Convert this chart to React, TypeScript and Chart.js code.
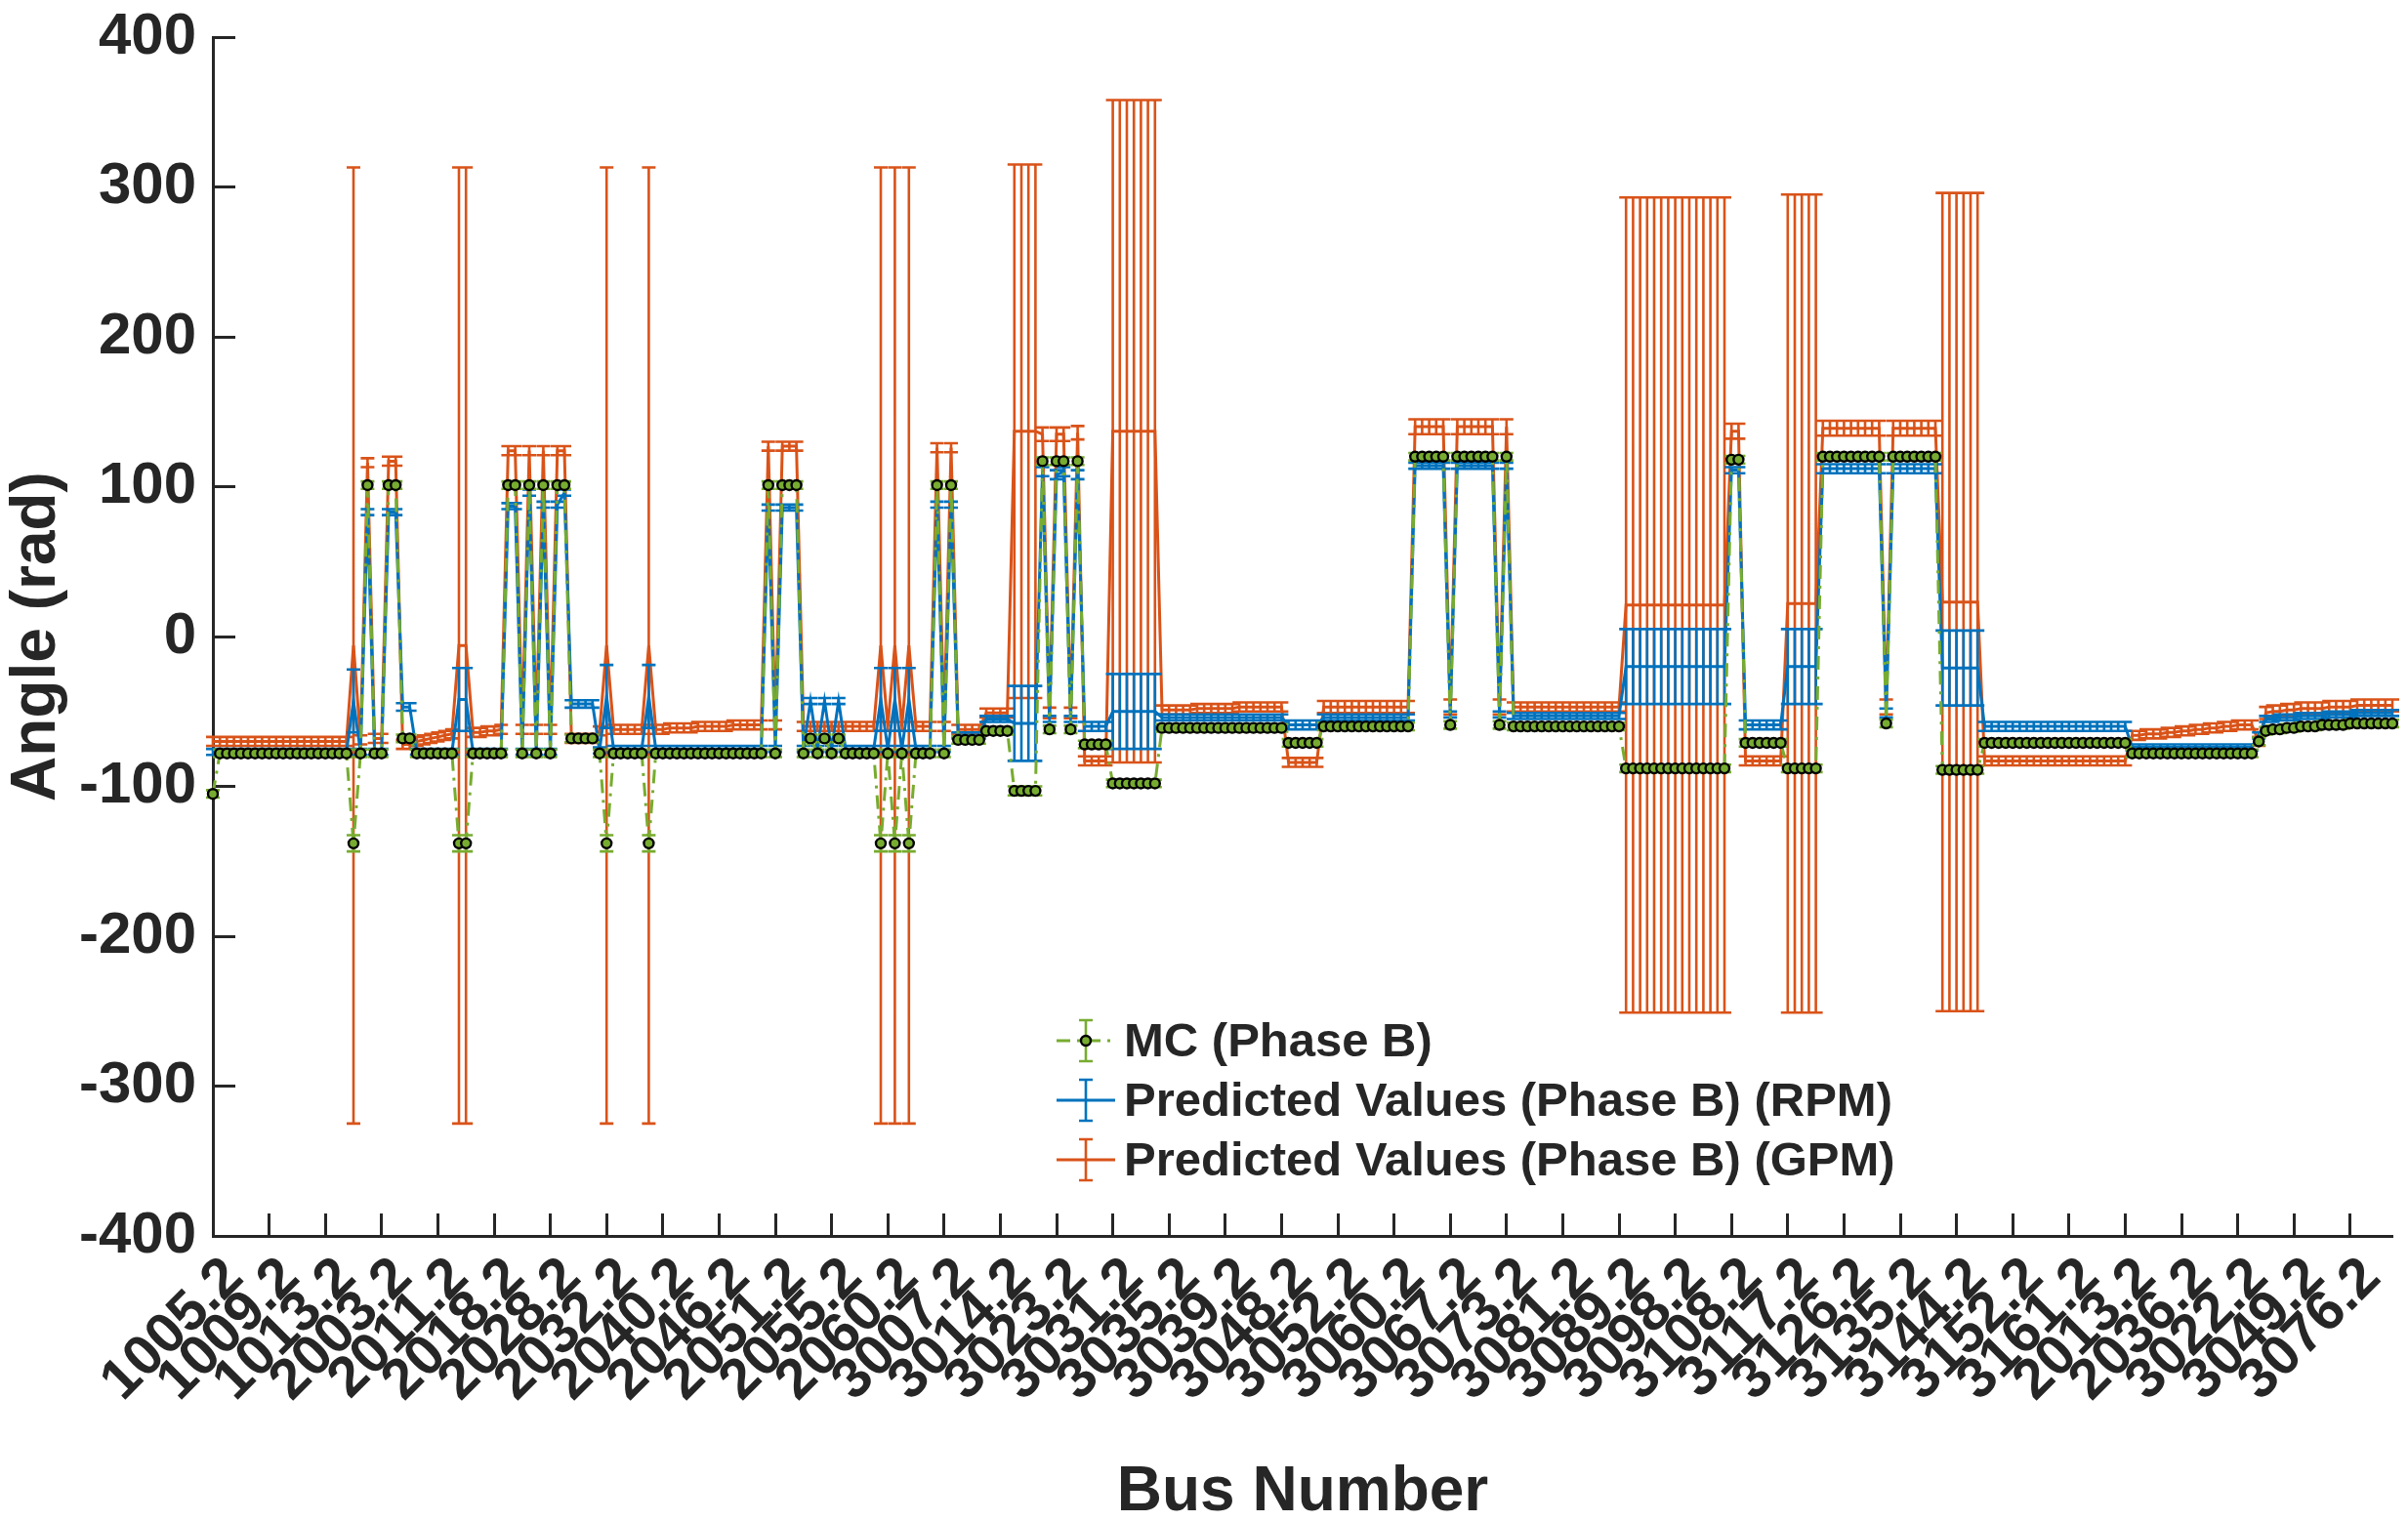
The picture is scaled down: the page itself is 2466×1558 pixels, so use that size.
import React, { useEffect, useRef } from 'react';
import Chart from 'chart.js/auto';

// tick labels, one every 8 points (point 1, 9, 17, ...)
const tickLabels = [
  '1005.2', '1009.2', '1013.2', '2003.2', '2011.2', '2018.2', '2028.2', '2032.2', '2040.2', '2046.2',
  '2051.2', '2055.2', '2060.2', '3007.2', '3014.2', '3023.2', '3031.2', '3035.2', '3039.2', '3048.2',
  '3052.2', '3060.2', '3067.2', '3073.2', '3081.2', '3089.2', '3098.2', '3108.2', '3117.2', '3126.2',
  '3135.2', '3144.2', '3152.2', '3161.2', '2013.2', '2036.2', '3022.2', '3049.2', '3076.2',
];
const tickStep = 8;
const pointCount = 311;

// MC (Phase B)
const mc = [
  -105, -78, -78, -78, -78, -78, -78, -78, -78, -78,
  -78, -78, -78, -78, -78, -78, -78, -78, -78, -78,
  -138, -78, 101, -78, -78, 101, 101, -68, -68, -78,
  -78, -78, -78, -78, -78, -138, -138, -78, -78, -78,
  -78, -78, 101, 101, -78, 101, -78, 101, -78, 101,
  101, -68, -68, -68, -68, -78, -138, -78, -78, -78,
  -78, -78, -138, -78, -78, -78, -78, -78, -78, -78,
  -78, -78, -78, -78, -78, -78, -78, -78, -78, 101,
  -78, 101, 101, 101, -78, -68, -78, -68, -78, -68,
  -78, -78, -78, -78, -78, -138, -78, -138, -78, -138,
  -78, -78, -78, 101, -78, 101, -69, -69, -69, -69,
  -63, -63, -63, -63, -103, -103, -103, -103, 117, -62,
  117, 117, -62, 117, -72, -72, -72, -72, -98, -98,
  -98, -98, -98, -98, -98, -61, -61, -61, -61, -61,
  -61, -61, -61, -61, -61, -61, -61, -61, -61, -61,
  -61, -61, -61, -71, -71, -71, -71, -71, -60, -60,
  -60, -60, -60, -60, -60, -60, -60, -60, -60, -60,
  -60, 120, 120, 120, 120, 120, -59, 120, 120, 120,
  120, 120, 120, -59, 120, -60, -60, -60, -60, -60,
  -60, -60, -60, -60, -60, -60, -60, -60, -60, -60,
  -60, -88, -88, -88, -88, -88, -88, -88, -88, -88,
  -88, -88, -88, -88, -88, -88, 118, 118, -71, -71,
  -71, -71, -71, -71, -88, -88, -88, -88, -88, 120,
  120, 120, 120, 120, 120, 120, 120, 120, -58, 120,
  120, 120, 120, 120, 120, 120, -89, -89, -89, -89,
  -89, -89, -71, -71, -71, -71, -71, -71, -71, -71,
  -71, -71, -71, -71, -71, -71, -71, -71, -71, -71,
  -71, -71, -71, -78, -78, -78, -78, -78, -78, -78,
  -78, -78, -78, -78, -78, -78, -78, -78, -78, -78,
  -78, -70, -63, -62, -62, -61, -61, -60, -60, -60,
  -59, -59, -59, -59, -58, -58, -58, -58, -58, -58, -58,
];
const mcErr = [
  2.5, 2.5, 2.5, 2.5, 2.5, 2.5, 2.5, 2.5, 2.5, 2.5,
  2.5, 2.5, 2.5, 2.5, 2.5, 2.5, 2.5, 2.5, 2.5, 2.5,
  5.4, 2.5, 2.5, 2.5, 2.5, 2.5, 2.5, 2.5, 2.5, 2.5,
  2.5, 2.5, 2.5, 2.5, 2.5, 5.4, 5.4, 2.5, 2.5, 2.5,
  2.5, 2.5, 2.5, 2.5, 2.5, 2.5, 2.5, 2.5, 2.5, 2.5,
  2.5, 2.5, 2.5, 2.5, 2.5, 2.5, 5.4, 2.5, 2.5, 2.5,
  2.5, 2.5, 5.4, 2.5, 2.5, 2.5, 2.5, 2.5, 2.5, 2.5,
  2.5, 2.5, 2.5, 2.5, 2.5, 2.5, 2.5, 2.5, 2.5, 2.5,
  2.5, 2.5, 2.5, 2.5, 2.5, 2.5, 2.5, 2.5, 2.5, 2.5,
  2.5, 2.5, 2.5, 2.5, 2.5, 5.4, 2.5, 5.4, 2.5, 5.4,
  2.5, 2.5, 2.5, 2.5, 2.5, 2.5, 2.5, 2.5, 2.5, 2.5,
  2.5, 2.5, 2.5, 2.5, 3, 3, 3, 3, 2.5, 2.5,
  2.5, 2.5, 2.5, 2.5, 2.5, 2.5, 2.5, 2.5, 2.5, 2.5,
  2.5, 2.5, 2.5, 2.5, 2.5, 2.5, 2.5, 2.5, 2.5, 2.5,
  2.5, 2.5, 2.5, 2.5, 2.5, 2.5, 2.5, 2.5, 2.5, 2.5,
  2.5, 2.5, 2.5, 2.5, 2.5, 2.5, 2.5, 2.5, 2.5, 2.5,
  2.5, 2.5, 2.5, 2.5, 2.5, 2.5, 2.5, 2.5, 2.5, 2.5,
  2.5, 2.5, 2.5, 2.5, 2.5, 2.5, 2.5, 2.5, 2.5, 2.5,
  2.5, 2.5, 2.5, 2.5, 2.5, 2.5, 2.5, 2.5, 2.5, 2.5,
  2.5, 2.5, 2.5, 2.5, 2.5, 2.5, 2.5, 2.5, 2.5, 2.5,
  2.5, 2.5, 2.5, 2.5, 2.5, 2.5, 2.5, 2.5, 2.5, 2.5,
  2.5, 2.5, 2.5, 2.5, 2.5, 2.5, 2.5, 2.5, 2.5, 2.5,
  2.5, 2.5, 2.5, 2.5, 2.5, 2.5, 2.5, 2.5, 2.5, 2.5,
  2.5, 2.5, 2.5, 2.5, 2.5, 2.5, 2.5, 2.5, 2.5, 2.5,
  2.5, 2.5, 2.5, 2.5, 2.5, 2.5, 2.5, 2.5, 2.5, 2.5,
  2.5, 2.5, 2.5, 2.5, 2.5, 2.5, 2.5, 2.5, 2.5, 2.5,
  2.5, 2.5, 2.5, 2.5, 2.5, 2.5, 2.5, 2.5, 2.5, 2.5,
  2.5, 2.5, 2.5, 2.5, 2.5, 2.5, 2.5, 2.5, 2.5, 2.5,
  2.5, 2.5, 2.5, 2.5, 2.5, 2.5, 2.5, 2.5, 2.5, 2.5,
  2.5, 2.5, 2.5, 2.5, 2.5, 2.5, 2.5, 2.5, 2.5, 2.5,
  2.5, 2.5, 2.5, 2.5, 2.5, 2.5, 2.5, 2.5, 2.5, 2.5, 2.5,
];

// Predicted Values (Phase B) (RPM)
const rpm = [
  -77, -77, -77, -77, -77, -77, -77, -77, -77, -77,
  -77, -77, -77, -77, -77, -77, -77, -77, -77, -77,
  -43, -77, 83, -77, -77, 83, 83, -47, -47, -77,
  -77, -77, -77, -77, -77, -42, -42, -77, -77, -77,
  -77, -77, 87, 87, -77, 96, -77, 88, -77, 88,
  96, -45, -45, -45, -45, -76, -40, -75, -75, -75,
  -75, -75, -40, -75, -75, -75, -75, -75, -75, -75,
  -75, -75, -75, -75, -75, -75, -75, -75, -75, 86,
  -75, 86, 86, 86, -75, -43, -75, -43, -75, -43,
  -75, -75, -75, -75, -75, -42, -75, -42, -75, -42,
  -75, -75, -75, 88, -75, 88, -66, -66, -66, -66,
  -55, -55, -55, -55, -58, -58, -58, -58, 110, -55,
  108, 110, -55, 108, -60, -60, -60, -60, -50, -50,
  -50, -50, -50, -50, -50, -54, -54, -54, -54, -54,
  -54, -54, -54, -54, -54, -54, -54, -54, -54, -54,
  -54, -54, -54, -59, -59, -59, -59, -59, -54, -54,
  -54, -54, -54, -54, -54, -54, -54, -54, -54, -54,
  -54, 114, 114, 114, 114, 114, -52, 114, 114, 114,
  114, 114, 114, -52, 114, -53, -53, -53, -53, -53,
  -53, -53, -53, -53, -53, -53, -53, -53, -53, -53,
  -53, -20, -20, -20, -20, -20, -20, -20, -20, -20,
  -20, -20, -20, -20, -20, -20, 111, 111, -59, -59,
  -59, -59, -59, -59, -20, -20, -20, -20, -20, 112,
  112, 112, 112, 112, 112, 112, 112, 112, -51, 112,
  112, 112, 112, 112, 112, 112, -21, -21, -21, -21,
  -21, -21, -60, -60, -60, -60, -60, -60, -60, -60,
  -60, -60, -60, -60, -60, -60, -60, -60, -60, -60,
  -60, -60, -60, -74, -74, -74, -74, -74, -74, -74,
  -74, -74, -74, -74, -74, -74, -74, -74, -74, -74,
  -74, -66, -55, -55, -54, -54, -54, -53, -53, -53,
  -53, -52, -52, -52, -52, -51, -51, -51, -51, -51, -51,
];
const rpmErr = [
  2, 2, 2, 2, 2, 2, 2, 2, 2, 2,
  2, 2, 2, 2, 2, 2, 2, 2, 2, 2,
  21, 2, 2, 2, 2, 2, 2, 2.5, 2.5, 2,
  2, 2, 2, 2, 2, 21, 21, 2, 2, 2,
  2, 2, 2, 2, 2, 2, 2, 2, 2, 2,
  2, 2.5, 2.5, 2.5, 2.5, 2, 21, 2, 2, 2,
  2, 2, 21, 2, 2, 2, 2, 2, 2, 2,
  2, 2, 2, 2, 2, 2, 2, 2, 2, 2,
  2, 2, 2, 2, 2, 2, 2, 2, 2, 2,
  2, 2, 2, 2, 2, 21, 2, 21, 2, 21,
  2, 2, 2, 2, 2, 2, 2, 2, 2, 2,
  2, 2, 2, 2, 25, 25, 25, 25, 3, 2,
  3, 3, 2, 3, 3, 3, 3, 3, 25, 25,
  25, 25, 25, 25, 25, 2, 2, 2, 2, 2,
  2, 2, 2, 2, 2, 2, 2, 2, 2, 2,
  2, 2, 2, 3, 3, 3, 3, 3, 2, 2,
  2, 2, 2, 2, 2, 2, 2, 2, 2, 2,
  2, 2, 2, 2, 2, 2, 2, 2, 2, 2,
  2, 2, 2, 2, 2, 2, 2, 2, 2, 2,
  2, 2, 2, 2, 2, 2, 2, 2, 2, 2,
  2, 25, 25, 25, 25, 25, 25, 25, 25, 25,
  25, 25, 25, 25, 25, 25, 2, 2, 3, 3,
  3, 3, 3, 3, 25, 25, 25, 25, 25, 3,
  3, 3, 3, 3, 3, 3, 3, 3, 3, 3,
  3, 3, 3, 3, 3, 3, 25, 25, 25, 25,
  25, 25, 3, 3, 3, 3, 3, 3, 3, 3,
  3, 3, 3, 3, 3, 3, 3, 3, 3, 3,
  3, 3, 3, 2, 2, 2, 2, 2, 2, 2,
  2, 2, 2, 2, 2, 2, 2, 2, 2, 2,
  2, 2, 2, 2, 2, 2, 2, 2, 2, 2,
  2, 2, 2, 2, 2, 2, 2, 2, 2, 2, 2,
];

// Predicted Values (Phase B) (GPM)
const gpm = [
  -70, -70, -70, -70, -70, -70, -70, -70, -70, -70,
  -70, -70, -70, -70, -70, -70, -70, -70, -70, -70,
  -6, -69, 116, -68, -68, 117, 117, -72, -72, -70,
  -69, -68, -67, -66, -65, -6, -6, -64, -64, -63,
  -63, -62, 124, 124, -62, 124, -62, 124, -62, 124,
  124, -68, -68, -68, -68, -63, -6, -62, -62, -62,
  -62, -62, -6, -62, -62, -61, -61, -61, -61, -60,
  -60, -60, -60, -60, -59, -59, -59, -59, -59, 127,
  -59, 127, 127, 127, -60, -60, -60, -60, -60, -60,
  -60, -60, -60, -60, -60, -6, -60, -6, -60, -6,
  -60, -60, -60, 126, -60, 126, -62, -62, -62, -62,
  -51, -51, -51, -51, 137, 137, 137, 137, 135, -51,
  135, 135, -51, 136, -83, -83, -83, -83, 137, 137,
  137, 137, 137, 137, 137, -49, -49, -49, -49, -49,
  -48, -48, -48, -48, -48, -48, -47, -47, -47, -47,
  -47, -47, -47, -84, -84, -84, -84, -84, -47, -47,
  -47, -47, -47, -47, -47, -47, -47, -47, -47, -47,
  -47, 140, 140, 140, 140, 140, -47, 140, 140, 140,
  140, 140, 140, -47, 140, -47, -47, -47, -47, -47,
  -47, -47, -47, -47, -47, -47, -47, -47, -47, -47,
  -47, 21, 21, 21, 21, 21, 21, 21, 21, 21,
  21, 21, 21, 21, 21, 21, 137, 137, -83, -83,
  -83, -83, -83, -83, 22, 22, 22, 22, 22, 139,
  139, 139, 139, 139, 139, 139, 139, 139, -47, 139,
  139, 139, 139, 139, 139, 139, 23, 23, 23, 23,
  23, 23, -83, -83, -83, -83, -83, -83, -83, -83,
  -83, -83, -83, -83, -83, -83, -83, -83, -83, -83,
  -83, -83, -83, -66, -66, -65, -65, -65, -64, -64,
  -63, -63, -62, -62, -61, -61, -60, -60, -59, -59,
  -59, -70, -51, -50, -50, -49, -49, -48, -48, -48,
  -48, -47, -47, -47, -47, -46, -46, -46, -46, -46, -46,
];
const gpmErr = [
  3, 3, 3, 3, 3, 3, 3, 3, 3, 3,
  3, 3, 3, 3, 3, 3, 3, 3, 3, 3,
  319, 3, 3, 3, 3, 3, 3, 3, 3, 3,
  3, 3, 3, 3, 3, 319, 319, 3, 3, 3,
  3, 3, 3, 3, 3, 3, 3, 3, 3, 3,
  3, 3, 3, 3, 3, 3, 319, 3, 3, 3,
  3, 3, 319, 3, 3, 3, 3, 3, 3, 3,
  3, 3, 3, 3, 3, 3, 3, 3, 3, 3,
  3, 3, 3, 3, 3, 3, 3, 3, 3, 3,
  3, 3, 3, 3, 3, 319, 3, 319, 3, 319,
  3, 3, 3, 3, 3, 3, 3, 3, 3, 3,
  3, 3, 3, 3, 178, 178, 178, 178, 4.5, 3.5,
  4.5, 4.5, 3.5, 4.5, 3, 3, 3, 3, 221, 221,
  221, 221, 221, 221, 221, 3, 3, 3, 3, 3,
  3, 3, 3, 3, 3, 3, 3, 3, 3, 3,
  3, 3, 3, 3, 3, 3, 3, 3, 4, 4,
  4, 4, 4, 4, 4, 4, 4, 4, 4, 4,
  4, 5, 5, 5, 5, 5, 5, 5, 5, 5,
  5, 5, 5, 5, 5, 3, 3, 3, 3, 3,
  3, 3, 3, 3, 3, 3, 3, 3, 3, 3,
  3, 272, 272, 272, 272, 272, 272, 272, 272, 272,
  272, 272, 272, 272, 272, 272, 5, 5, 3, 3,
  3, 3, 3, 3, 273, 273, 273, 273, 273, 5,
  5, 5, 5, 5, 5, 5, 5, 5, 5, 5,
  5, 5, 5, 5, 5, 5, 273, 273, 273, 273,
  273, 273, 3, 3, 3, 3, 3, 3, 3, 3,
  3, 3, 3, 3, 3, 3, 3, 3, 3, 3,
  3, 3, 3, 3, 3, 3, 3, 3, 3, 3,
  3, 3, 3, 3, 3, 3, 3, 3, 3, 3,
  3, 3, 4, 4, 4, 4, 4, 4, 4, 4,
  4, 4, 4, 4, 4, 4, 4, 4, 4, 4, 4,
];

const FONT = '"Liberation Sans", Arial, Helvetica, sans-serif';
const INK = '#262626';
const BLUE = '#0072BD';
const ORANGE = '#D95319';
const GREEN = '#77AC30';

const toPoints = (vals: number[]) => vals.map((y, i) => ({ x: i + 1, y }));

// vertical error bars with caps, drawn under each dataset's line
const errorBarPlugin = {
  id: 'errorBars',
  beforeDatasetDraw(chart: any, args: any) {
    const ds = chart.data.datasets[args.index];
    const errs: number[] | undefined = ds.errors;
    if (!errs) return;
    const yScale = chart.scales.y;
    const ctx = chart.ctx;
    const cap = 7;
    ctx.save();
    ctx.strokeStyle = ds.borderColor;
    ctx.lineWidth = 2.6;
    ctx.setLineDash([]);
    ctx.beginPath();
    args.meta.data.forEach((pt: any, i: number) => {
      const v = ds.data[i].y;
      const e = errs[i];
      const top = yScale.getPixelForValue(v + e);
      const bot = yScale.getPixelForValue(v - e);
      ctx.moveTo(pt.x, top);
      ctx.lineTo(pt.x, bot);
      ctx.moveTo(pt.x - cap, top);
      ctx.lineTo(pt.x + cap, top);
      ctx.moveTo(pt.x - cap, bot);
      ctx.lineTo(pt.x + cap, bot);
    });
    ctx.stroke();
    ctx.restore();
  },
};

// legend with error-bar glyphs, placed inside the axes like MATLAB's
const legendPlugin = {
  id: 'errLegend',
  afterDraw(chart: any) {
    const { ctx } = chart;
    const iconX = 1112;
    const textX = 1151;
    const firstY = 1066;
    const rowGap = 61;
    chart.data.datasets.forEach((ds: any, i: number) => {
      const y = firstY + i * rowGap;
      ctx.save();
      ctx.strokeStyle = ds.borderColor;
      ctx.lineWidth = 3;
      ctx.setLineDash(ds.borderDash || []);
      ctx.beginPath();
      ctx.moveTo(iconX - 30, y);
      ctx.lineTo(iconX + 30, y);
      ctx.stroke();
      ctx.setLineDash([]);
      ctx.lineWidth = 2.6;
      ctx.beginPath();
      ctx.moveTo(iconX, y - 21);
      ctx.lineTo(iconX, y + 21);
      ctx.moveTo(iconX - 7, y - 21);
      ctx.lineTo(iconX + 7, y - 21);
      ctx.moveTo(iconX - 7, y + 21);
      ctx.lineTo(iconX + 7, y + 21);
      ctx.stroke();
      if (ds.pointRadius > 0) {
        ctx.beginPath();
        ctx.arc(iconX, y, ds.pointRadius, 0, Math.PI * 2);
        ctx.fillStyle = ds.pointBackgroundColor;
        ctx.fill();
        ctx.lineWidth = ds.pointBorderWidth;
        ctx.strokeStyle = ds.pointBorderColor;
        ctx.stroke();
      }
      ctx.fillStyle = INK;
      ctx.font = `bold 49px ${FONT}`;
      ctx.textBaseline = 'middle';
      ctx.textAlign = 'left';
      ctx.fillText(ds.label, textX, y + 2);
      ctx.restore();
    });
  },
};

const App: React.FC = () => {
  const canvasRef = useRef<HTMLCanvasElement | null>(null);
  const chartRef = useRef<Chart | null>(null);

  useEffect(() => {
    if (!canvasRef.current) return;
    if (chartRef.current) chartRef.current.destroy();
    const ctx = canvasRef.current.getContext('2d');
    if (!ctx) return;

    chartRef.current = new Chart(ctx, {
      type: 'line',
      data: {
        datasets: [
          {
            label: 'MC (Phase B)',
            data: toPoints(mc),
            errors: mcErr,
            borderColor: GREEN,
            borderWidth: 3,
            borderDash: [14, 7, 3, 7],
            pointRadius: 5,
            pointBackgroundColor: GREEN,
            pointBorderColor: '#000000',
            pointBorderWidth: 2.4,
            tension: 0,
            clip: false,
          } as any,
          {
            label: 'Predicted Values (Phase B) (RPM)',
            data: toPoints(rpm),
            errors: rpmErr,
            borderColor: BLUE,
            borderWidth: 3,
            pointRadius: 0,
            tension: 0,
            clip: false,
          } as any,
          {
            label: 'Predicted Values (Phase B) (GPM)',
            data: toPoints(gpm),
            errors: gpmErr,
            borderColor: ORANGE,
            borderWidth: 3,
            pointRadius: 0,
            tension: 0,
            clip: false,
          } as any,
        ],
      },
      options: {
        responsive: false,
        animation: false,
        devicePixelRatio: 1,
        layout: { padding: { left: 0, top: 38, right: 16, bottom: 0 } },
        plugins: {
          legend: { display: false },
          tooltip: { enabled: false },
        },
        scales: {
          x: {
            type: 'linear',
            min: 1,
            max: pointCount,
            afterBuildTicks: (scale: any) => {
              scale.ticks = tickLabels.map((_, j) => ({ value: 1 + j * tickStep }));
            },
            afterFit: (scale: any) => {
              scale.height = 292;
              scale.paddingLeft = 0;
              scale.paddingRight = 0;
            },
            ticks: {
              autoSkip: false,
              minRotation: 45,
              maxRotation: 45,
              padding: 32,
              labelOffset: 22,
              color: INK,
              font: { family: FONT, size: 58, weight: 'bold' },
              callback: (_v: any, i: number) => tickLabels[i],
            },
            grid: {
              drawOnChartArea: false,
              drawTicks: true,
              tickLength: -23,
              tickWidth: 3,
              tickColor: INK,
            },
            border: { display: true, color: INK, width: 3 },
            title: {
              display: true,
              text: 'Bus Number',
              color: INK,
              font: { family: FONT, size: 64, weight: 'bold', lineHeight: 0.9 },
              padding: { top: 0, bottom: 0 },
            },
          },
          y: {
            type: 'linear',
            min: -400,
            max: 400,
            afterFit: (scale: any) => {
              scale.width = 218;
              scale.paddingTop = 0;
              scale.paddingBottom = 0;
            },
            ticks: {
              stepSize: 100,
              padding: 40,
              color: INK,
              font: { family: FONT, size: 60, weight: 'bold' },
            },
            grid: {
              drawOnChartArea: false,
              drawTicks: true,
              tickLength: -23,
              tickWidth: 3,
              tickColor: INK,
            },
            border: { display: true, color: INK, width: 3 },
            title: {
              display: true,
              text: 'Angle (rad)',
              color: INK,
              font: { family: FONT, size: 64, weight: 'bold', lineHeight: 1.2 },
              padding: { top: 0, bottom: 0 },
            },
          },
        },
      } as any,
      plugins: [errorBarPlugin, legendPlugin],
    });

    return () => {
      if (chartRef.current) {
        chartRef.current.destroy();
        chartRef.current = null;
      }
    };
  }, []);

  return (
    <div style={{ position: 'absolute', left: 0, top: 0, width: 2466, height: 1558, background: '#ffffff' }}>
      <canvas ref={canvasRef} width={2466} height={1558} style={{ width: 2466, height: 1558, display: 'block' }} />
    </div>
  );
};

export default App;
